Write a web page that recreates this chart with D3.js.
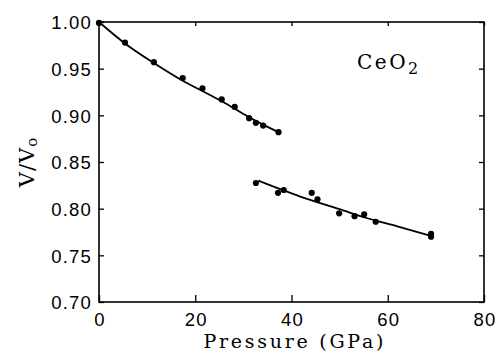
<!DOCTYPE html>
<html>
<head>
<meta charset="utf-8">
<script src="https://cdn.jsdelivr.net/npm/d3@7"></script>
<style>
  body { margin: 0; background: #fff; }
  svg { display: block; }
  .tick text { font-family: "Liberation Sans", Arial, sans-serif; font-size: 18.5px; letter-spacing: 1.2px; fill: #000; }
  .lbl { font-family: "DejaVu Serif", serif; fill: #000; }
</style>
</head>
<body>
<div id="chart"></div>
<script>
// measured points, phase I (fluorite)
const p1 = [0, 5.4, 11.4, 17.4, 21.5, 25.5, 28.2, 31.2, 32.6, 34.1, 37.3];
const v1 = [0.999, 0.978, 0.957, 0.940, 0.929, 0.917, 0.909, 0.897, 0.892, 0.889, 0.882];
// phase II
const p2 = [32.6, 37.2, 38.4, 44.2, 45.4, 49.9, 53.1, 55.1, 57.5, 69.0, 69.0];
const v2 = [0.8275, 0.817, 0.820, 0.817, 0.810, 0.795, 0.792, 0.794, 0.786, 0.773, 0.770];

// fitted curves
const fit1P = [0, 5.4, 11.4, 17.4, 21.5, 25.5, 28.2, 31.2, 34.1, 37.3];
const fit1V = [1.000, 0.977, 0.956, 0.937, 0.926, 0.915, 0.907, 0.898, 0.890, 0.882];
const fit2P = [33.1, 41.8, 50.0, 55.6, 62.0, 68.8];
const fit2V = [0.830, 0.813, 0.7995, 0.790, 0.781, 0.771];

const xTicks = [0, 20, 40, 60, 80];
const yTicks = [0.70, 0.75, 0.80, 0.85, 0.90, 0.95, 1.00];

const width = 502, height = 353;
const margin = { top: 22, right: 18, bottom: 51, left: 99 };
const w = width - margin.left - margin.right;
const h = height - margin.top - margin.bottom;

const svg = d3.select('#chart').append('svg')
  .attr('width', width)
  .attr('height', height);

const g = svg.append('g')
  .attr('transform', 'translate(' + margin.left + ',' + margin.top + ')');

const x = d3.scaleLinear().domain([0, 80]).range([0, w]);
const y = d3.scaleLinear().domain([0.70, 1.00]).range([h, 0]);

// axes, ticks pointing inward
const xAxis = d3.axisBottom(x).tickValues(xTicks).tickFormat(d3.format('d')).tickSizeInner(-7).tickSizeOuter(0).tickPadding(11);
const yAxis = d3.axisLeft(y).tickValues(yTicks).tickFormat(d3.format('.2f')).tickSizeInner(-5).tickSizeOuter(0).tickPadding(7);

const gx = g.append('g').attr('transform', 'translate(0,' + h + ')').call(xAxis);
const gy = g.append('g').call(yAxis);
g.append('g').call(d3.axisTop(x).tickValues(xTicks).tickFormat('').tickSizeInner(-4).tickSizeOuter(0));
g.append('g').attr('transform', 'translate(' + w + ',0)')
  .call(d3.axisRight(y).tickValues(yTicks).tickFormat('').tickSizeInner(-5).tickSizeOuter(0));

g.selectAll('.domain').remove();
g.selectAll('.tick line').attr('stroke', '#000').attr('stroke-width', 1.3);
gy.selectAll('.tick text').attr('dy', '0.36em');
gx.selectAll('.tick text').attr('dy', '0.71em').attr('dx', '0.5px');

// frame
g.append('rect')
  .attr('width', w).attr('height', h)
  .attr('fill', 'none').attr('stroke', '#000').attr('stroke-width', 1.6);

// fit curves
const line = d3.line()
  .x(d => x(d[0]))
  .y(d => y(d[1]))
  .curve(d3.curveMonotoneX);

g.append('path')
  .datum(fit1P.map((p, i) => [p, fit1V[i]]))
  .attr('d', line)
  .attr('fill', 'none').attr('stroke', '#000').attr('stroke-width', 1.8);

g.append('path')
  .datum(fit2P.map((p, i) => [p, fit2V[i]]))
  .attr('d', line)
  .attr('fill', 'none').attr('stroke', '#000').attr('stroke-width', 1.8);

// data points
const pts = p1.map((p, i) => [p, v1[i]]).concat(p2.map((p, i) => [p, v2[i]]));
g.append('g').selectAll('circle')
  .data(pts)
  .join('circle')
  .attr('cx', d => x(d[0]))
  .attr('cy', d => y(d[1]))
  .attr('r', 3.1)
  .attr('fill', '#000');

// labels
svg.append('text')
  .attr('class', 'lbl')
  .attr('x', margin.left + w / 2 + 2)
  .attr('y', 348)
  .attr('text-anchor', 'middle')
  .attr('font-size', 19)
  .attr('textLength', 180)
  .attr('lengthAdjust', 'spacing')
  .text('Pressure (GPa)');

const yl = svg.append('text')
  .attr('class', 'lbl')
  .attr('transform', 'translate(34,' + (margin.top + h / 2) + ') rotate(-90)')
  .attr('text-anchor', 'middle')
  .attr('font-size', 21)
  .attr('letter-spacing', 1);
yl.append('tspan').text('V/V');
yl.append('tspan').attr('font-size', 15).attr('dy', 3).text('o');

const ce = svg.append('text')
  .attr('class', 'lbl')
  .attr('x', 357)
  .attr('y', 69)
  .attr('font-size', 20)
  .attr('letter-spacing', 2.5);
ce.append('tspan').text('CeO');
ce.append('tspan').attr('font-size', 16).attr('dy', 5).text('2');
</script>
</body>
</html>
